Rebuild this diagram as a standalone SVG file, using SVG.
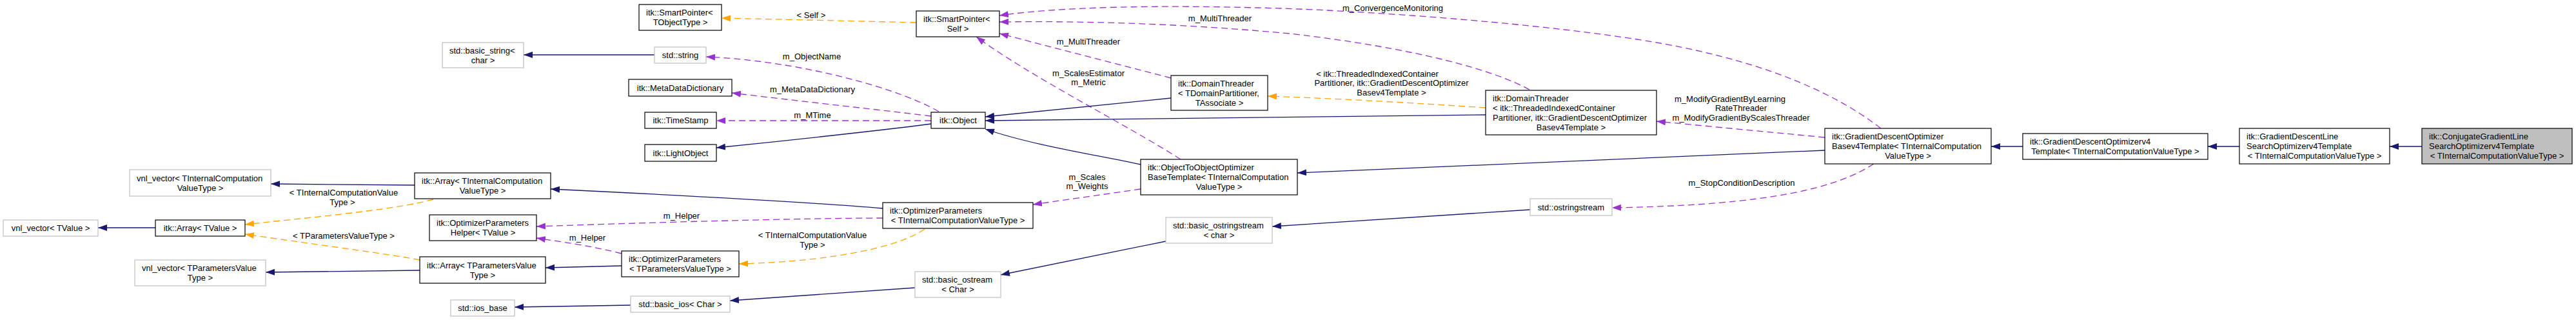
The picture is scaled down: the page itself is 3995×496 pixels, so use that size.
<svg xmlns="http://www.w3.org/2000/svg" width="3995" height="496" viewBox="0 0 3995 496">
<style>
text{font-family:"Liberation Sans",Arial,Helvetica,sans-serif;font-size:13px;fill:#000}
.c{text-anchor:middle}
.nb{fill:#fff;stroke:#000;stroke-width:1.2}
.ng{fill:#fff;stroke:#bfbfbf;stroke-width:1.2}
.nf{fill:#bfbfbf;stroke:#000;stroke-width:1.2}
.s{fill:none;stroke:#191970;stroke-width:1.3;marker-end:url(#ab)}
.p{fill:none;stroke:#9a32cd;stroke-width:1.3;stroke-dasharray:10,6;marker-end:url(#ap)}
.o{fill:none;stroke:#ffa500;stroke-width:1.3;stroke-dasharray:10,6;marker-end:url(#ao)}
</style>
<defs>
<marker id="ab" markerUnits="userSpaceOnUse" markerWidth="14" markerHeight="10" refX="14" refY="5" orient="auto"><path d="M0,0L14,5L0,10z" fill="#191970"/></marker>
<marker id="ap" markerUnits="userSpaceOnUse" markerWidth="14" markerHeight="10" refX="14" refY="5" orient="auto"><path d="M0,0L14,5L0,10z" fill="#9a32cd"/></marker>
<marker id="ao" markerUnits="userSpaceOnUse" markerWidth="14" markerHeight="10" refX="14" refY="5" orient="auto"><path d="M0,0L14,5L0,10z" fill="#ffa500"/></marker>
</defs>
<rect width="3995" height="496" fill="#fff"/>
<g id="edges">
<path class="s" d="M643,287L420,285"/>
<path class="s" d="M241,353L152,353"/>
<path class="o" d="M672,309C610,326 470,338 380,348"/>
<text class="c" x="533" y="302.5">&lt; TInternalComputationValue</text>
<text class="c" x="531" y="317.5">Type &gt;</text>
<path class="o" d="M651,403C600,393 460,375 380,363"/>
<text class="c" x="533" y="369.5">&lt; TParametersValueType &gt;</text>
<path class="s" d="M651,419L412,422"/>
<path class="s" d="M1015,85L812,85"/>
<path class="o" d="M1421,35C1350,33 1200,30 1119,28"/>
<text class="c" x="1258" y="27.5">&lt; Self &gt;</text>
<path class="p" d="M1456,173C1400,140 1250,95 1095,88"/>
<text class="c" x="1259" y="91.5">m_ObjectName</text>
<path class="p" d="M1444,180C1380,172 1250,158 1135,144"/>
<text class="c" x="1260" y="142.5">m_MetaDataDictionary</text>
<path class="p" d="M1444,187L1111,187"/>
<text class="c" x="1260" y="182.5">m_MTime</text>
<path class="s" d="M1444,192C1400,198 1250,215 1111,229"/>
<path class="s" d="M1369,323C1250,313 1000,300 854,293"/>
<path class="p" d="M1369,338C1250,338 1000,345 832,351"/>
<text class="c" x="1057" y="338.5">m_Helper</text>
<path class="p" d="M964,393C920,382 880,376 832,369"/>
<text class="c" x="911" y="372.5">m_Helper</text>
<path class="s" d="M964,412L846,415"/>
<path class="o" d="M1434,355C1400,380 1300,405 1146,409"/>
<text class="c" x="1260" y="368.5">&lt; TInternalComputationValue</text>
<text class="c" x="1260" y="383.5">Type &gt;</text>
<path class="s" d="M1419,446C1350,451 1250,458 1132,466"/>
<path class="s" d="M978,473L798,476"/>
<path class="p" d="M2917,199C2860,155 2760,100 2575,67C2400,36 2100,15 1950,12C1800,8 1650,10 1550,24"/>
<text class="c" x="2160" y="16.5">m_ConvergenceMonitoring</text>
<path class="p" d="M2372,139C2320,110 2200,75 2000,52C1850,38 1700,32 1550,34"/>
<text class="c" x="1892" y="32.5">m_MultiThreader</text>
<path class="p" d="M1816,121L1550,52"/>
<text class="c" x="1688" y="68.5">m_MultiThreader</text>
<path class="p" d="M1831,247C1750,195 1600,120 1514,57"/>
<text class="c" x="1688" y="117.5">m_ScalesEstimator</text>
<text class="c" x="1688" y="131.5">m_Metric</text>
<path class="s" d="M1816,152L1528,181"/>
<path class="s" d="M2304,178L1528,187"/>
<path class="s" d="M1769,255C1700,240 1600,225 1528,200"/>
<path class="p" d="M1769,293L1602,317"/>
<text class="c" x="1686" y="278.5">m_Scales</text>
<text class="c" x="1686" y="292.5">m_Weights</text>
<path class="s" d="M1808,374L1552,426"/>
<path class="o" d="M2304,167C2200,160 2080,153 1966,149"/>
<text class="c" x="2136" y="118.5">&lt; itk::ThreadedIndexedContainer</text>
<text class="c" x="2158" y="133">Partitioner, itk::GradientDescentOptimizer</text>
<text class="c" x="2158" y="147.5">Basev4Template &gt;</text>
<path class="s" d="M2830,233L2012,268"/>
<path class="s" d="M2373,325L1973,351"/>
<path class="p" d="M2830,213L2569,188"/>
<text class="c" x="2683" y="157.5">m_ModifyGradientByLearning</text>
<text class="c" x="2700" y="171.5">RateThreader</text>
<text class="c" x="2700" y="186.5">m_ModifyGradientByScalesThreader</text>
<path class="p" d="M2906,254C2850,290 2750,318 2500,322"/>
<text class="c" x="2701" y="287.5">m_StopConditionDescription</text>
<path class="s" d="M3137,227L3088,227"/>
<path class="s" d="M3473,227L3424,227"/>
<path class="s" d="M3756,227L3706,227"/>
</g>
<g id="n_vnl_tic"><rect class="ng" x="201" y="263" width="219" height="41"/><text x="212" y="280.5">vnl_vector&lt; TInternalComputation</text><text class="c" x="310.5" y="295.5">ValueType &gt;</text></g>
<g id="n_vnl_tvalue"><rect class="ng" x="5" y="341" width="147" height="25"/><text class="c" x="78.5" y="358">vnl_vector&lt; TValue &gt;</text></g>
<g id="n_array_tvalue"><rect class="nb" x="241" y="341" width="139" height="25"/><text class="c" x="310.5" y="358">itk::Array&lt; TValue &gt;</text></g>
<g id="n_vnl_tpv"><rect class="ng" x="209" y="403" width="203" height="40"/><text x="220" y="420">vnl_vector&lt; TParametersValue</text><text class="c" x="310.5" y="435">Type &gt;</text></g>
<g id="n_array_tic"><rect class="nb" x="643" y="268" width="211" height="40"/><text x="654" y="285">itk::Array&lt; TInternalComputation</text><text class="c" x="748.5" y="300">ValueType &gt;</text></g>
<g id="n_helper"><rect class="nb" x="666" y="333" width="166" height="40"/><text x="677" y="350">itk::OptimizerParameters</text><text class="c" x="749" y="365">Helper&lt; TValue &gt;</text></g>
<g id="n_array_tpv"><rect class="nb" x="651" y="398" width="195" height="41"/><text x="662" y="415.5">itk::Array&lt; TParametersValue</text><text class="c" x="748.5" y="430.5">Type &gt;</text></g>
<g id="n_ios_base"><rect class="ng" x="699" y="465" width="99" height="25"/><text class="c" x="748.5" y="482">std::ios_base</text></g>
<g id="n_basic_string"><rect class="ng" x="686" y="66" width="126" height="39"/><text x="697" y="82.5">std::basic_string&lt;</text><text class="c" x="749" y="97.5">char &gt;</text></g>
<g id="n_sp_tobj"><rect class="nb" x="991" y="7" width="128" height="40"/><text x="1002" y="24">itk::SmartPointer&lt;</text><text class="c" x="1055" y="39">TObjectType &gt;</text></g>
<g id="n_string"><rect class="ng" x="1015" y="73" width="80" height="25"/><text class="c" x="1055" y="90">std::string</text></g>
<g id="n_mdd"><rect class="nb" x="975" y="123" width="160" height="26"/><text class="c" x="1055" y="140.5">itk::MetaDataDictionary</text></g>
<g id="n_timestamp"><rect class="nb" x="1000" y="174" width="111" height="25"/><text class="c" x="1055.5" y="191">itk::TimeStamp</text></g>
<g id="n_lightobject"><rect class="nb" x="1000" y="224" width="111" height="26"/><text class="c" x="1055.5" y="241.5">itk::LightObject</text></g>
<g id="n_optparams_tpv"><rect class="nb" x="964" y="389" width="182" height="40"/><text x="975" y="406">itk::OptimizerParameters</text><text class="c" x="1055" y="421">&lt; TParametersValueType &gt;</text></g>
<g id="n_basic_ios"><rect class="ng" x="978" y="459" width="154" height="25"/><text class="c" x="1055" y="476">std::basic_ios&lt; Char &gt;</text></g>
<g id="n_sp_self"><rect class="nb" x="1421" y="17" width="129" height="40"/><text x="1432" y="34">itk::SmartPointer&lt;</text><text class="c" x="1485.5" y="49">Self &gt;</text></g>
<g id="n_object"><rect class="nb" x="1444" y="174" width="84" height="25"/><text class="c" x="1486" y="191">itk::Object</text></g>
<g id="n_optparams_tic"><rect class="nb" x="1369" y="314" width="233" height="40"/><text x="1380" y="331">itk::OptimizerParameters</text><text class="c" x="1485.5" y="346">&lt; TInternalComputationValueType &gt;</text></g>
<g id="n_basic_ostream"><rect class="ng" x="1419" y="421" width="133" height="40"/><text x="1430" y="438">std::basic_ostream</text><text class="c" x="1485.5" y="453">&lt; Char &gt;</text></g>
<g id="n_dt_generic"><rect class="nb" x="1816" y="117" width="150" height="54"/><text x="1827" y="133.5">itk::DomainThreader</text><text x="1827" y="148.5">&lt; TDomainPartitioner,</text><text class="c" x="1891" y="163.5">TAssociate &gt;</text></g>
<g id="n_o2o"><rect class="nb" x="1769" y="247" width="243" height="55"/><text x="1780" y="264">itk::ObjectToObjectOptimizer</text><text x="1780" y="279">BaseTemplate&lt; TInternalComputation</text><text class="c" x="1890.5" y="294">ValueType &gt;</text></g>
<g id="n_basic_ostringstream"><rect class="ng" x="1808" y="337" width="165" height="40"/><text x="1819" y="354">std::basic_ostringstream</text><text class="c" x="1890.5" y="369">&lt; char &gt;</text></g>
<g id="n_dt_itk"><rect class="nb" x="2304" y="140" width="265" height="69"/><text x="2315" y="157">itk::DomainThreader</text><text x="2315" y="172">&lt; itk::ThreadedIndexedContainer</text><text x="2315" y="187">Partitioner, itk::GradientDescentOptimizer</text><text class="c" x="2436.5" y="202">Basev4Template &gt;</text></g>
<g id="n_ostringstream"><rect class="ng" x="2373" y="308" width="127" height="26"/><text class="c" x="2436.5" y="325.5">std::ostringstream</text></g>
<g id="n_gdob"><rect class="nb" x="2830" y="199" width="258" height="55"/><text x="2841" y="216">itk::GradientDescentOptimizer</text><text x="2841" y="231">Basev4Template&lt; TInternalComputation</text><text class="c" x="2959" y="246">ValueType &gt;</text></g>
<g id="n_gdov4"><rect class="nb" x="3137" y="207" width="287" height="40"/><text x="3148" y="224">itk::GradientDescentOptimizerv4</text><text class="c" x="3280.5" y="239">Template&lt; TInternalComputationValueType &gt;</text></g>
<g id="n_gdls"><rect class="nb" x="3473" y="199" width="233" height="55"/><text x="3484" y="216">itk::GradientDescentLine</text><text x="3484" y="231">SearchOptimizerv4Template</text><text class="c" x="3589.5" y="246">&lt; TInternalComputationValueType &gt;</text></g>
<g id="n_cgls"><rect class="nf" x="3756" y="199" width="233" height="55"/><text x="3767" y="216">itk::ConjugateGradientLine</text><text x="3767" y="231">SearchOptimizerv4Template</text><text class="c" x="3872.5" y="246">&lt; TInternalComputationValueType &gt;</text></g>
</svg>
